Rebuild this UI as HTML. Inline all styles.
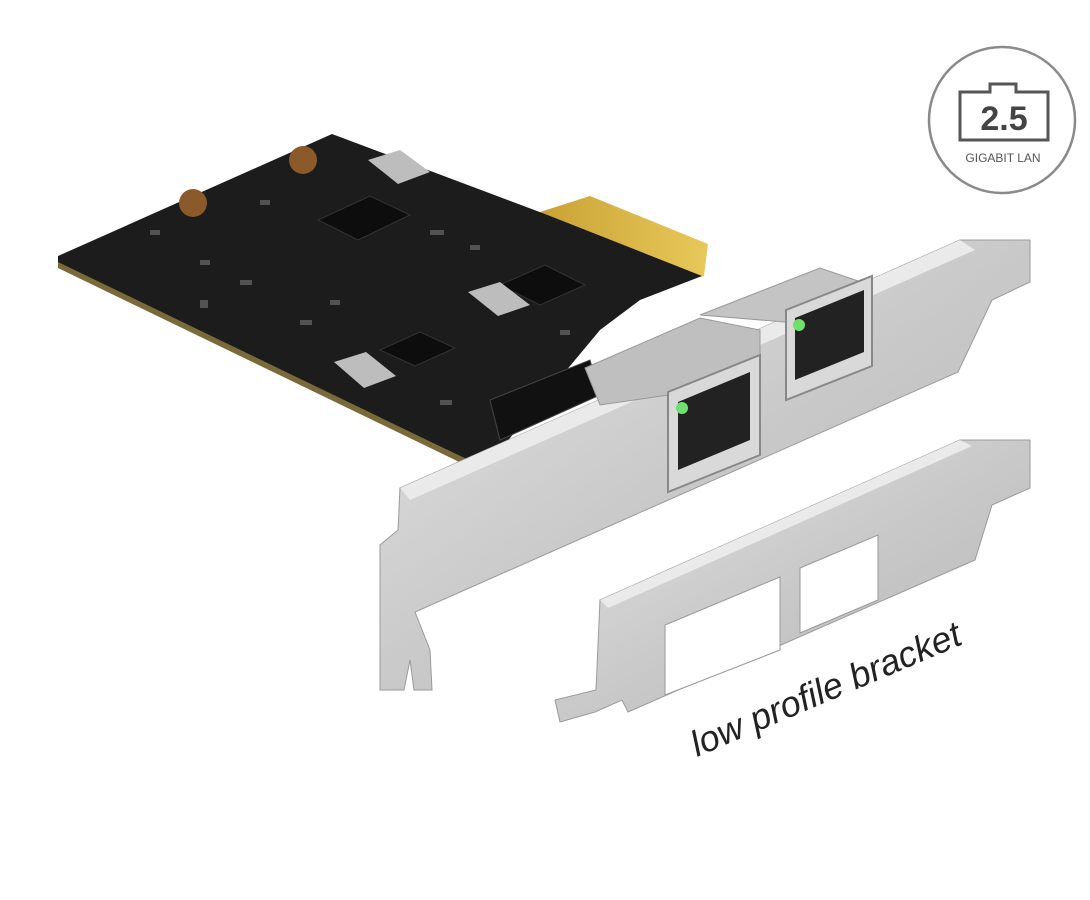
<!DOCTYPE html>
<html><head><meta charset="utf-8"><style>
html,body{margin:0;padding:0;background:#fff;width:1090px;height:900px;overflow:hidden}
svg{display:block}
</style></head><body>
<svg width="1090" height="900" viewBox="0 0 1090 900" xmlns="http://www.w3.org/2000/svg">
<defs>
<linearGradient id="sil" x1="0" y1="0" x2="1" y2="1">
<stop offset="0" stop-color="#e4e4e4"/><stop offset="0.5" stop-color="#c9c9c9"/><stop offset="1" stop-color="#b5b5b5"/>
</linearGradient>
<linearGradient id="gold" x1="0" y1="0" x2="1" y2="0">
<stop offset="0" stop-color="#c9a235"/><stop offset="1" stop-color="#e8c85a"/>
</linearGradient>
</defs>
<rect width="1090" height="900" fill="#fff"/>
<!-- badge -->
<circle cx="1002" cy="120" r="73" fill="#fff" stroke="#8a8a8a" stroke-width="2.5"/>
<path d="M960 92 H990 V84 H1016 V92 H1048 V140 H960 Z" fill="none" stroke="#555" stroke-width="3"/>
<text x="1004" y="130" font-family="Liberation Sans, sans-serif" font-weight="bold" font-size="34" fill="#444" text-anchor="middle">2.5</text>
<text x="1003" y="162" font-family="Liberation Sans, sans-serif" font-size="12" fill="#555" text-anchor="middle">GIGABIT LAN</text>
<!-- gold fingers -->
<polygon points="540,212 590,196 708,244 704,276 600,300" fill="url(#gold)"/>
<!-- PCB -->
<polygon points="58,256 332,134 545,214 702,276 640,300 600,330 485,468 58,264" fill="#1c1c1c"/>
<polygon points="58,262 485,468 480,472 58,268" fill="#7a6a3a"/>
<!-- chips -->
<polygon points="318,220 370,196 410,215 358,240" fill="#0d0d0d" stroke="#333"/>
<polygon points="500,285 545,265 585,285 540,305" fill="#0d0d0d" stroke="#333"/>
<polygon points="380,350 420,332 455,348 415,366" fill="#0d0d0d" stroke="#333"/>
<polygon points="368,160 400,150 430,172 398,184" fill="#bdbdbd"/>
<polygon points="468,292 500,282 530,305 498,316" fill="#bdbdbd"/>
<polygon points="334,362 366,352 396,376 364,388" fill="#bdbdbd"/>
<circle cx="303" cy="160" r="14" fill="#8a5a2a"/>
<circle cx="193" cy="203" r="14" fill="#8a5a2a"/>
<g fill="#777" opacity="0.6">
<rect x="150" y="230" width="10" height="5"/><rect x="200" y="260" width="10" height="5"/><rect x="240" y="280" width="12" height="5"/>
<rect x="260" y="200" width="10" height="5"/><rect x="430" y="230" width="14" height="5"/><rect x="470" y="245" width="10" height="5"/>
<rect x="300" y="320" width="12" height="5"/><rect x="330" y="300" width="10" height="5"/><rect x="200" y="300" width="8" height="8"/>
<rect x="440" y="400" width="12" height="5"/><rect x="560" y="330" width="10" height="5"/>
</g>
<polygon points="490,400 590,360 600,395 500,440" fill="#111" stroke="#444"/>
<!-- full-height bracket -->
<polygon points="400,488 960,240 1030,240 1030,282 992,300 958,372 415,612 430,650 432,690 414,690 410,660 404,690 380,690 380,545 398,530" fill="url(#sil)" stroke="#9a9a9a"/>
<polygon points="400,488 960,240 975,250 410,500" fill="#eaeaea"/>
<!-- port housings -->
<polygon points="585,368 700,318 760,330 760,360 668,395 600,405" fill="#bfbfbf" stroke="#999"/>
<polygon points="700,315 820,268 870,285 870,300 785,322" fill="#c4c4c4" stroke="#999"/>
<!-- ports -->
<polygon points="668,392 760,355 760,455 668,492" fill="#d9d9d9" stroke="#888" stroke-width="2"/>
<polygon points="678,402 750,372 750,440 678,470" fill="#222"/>
<circle cx="682" cy="408" r="6" fill="#6fe06f"/>
<polygon points="786,310 872,276 872,366 786,400" fill="#d9d9d9" stroke="#888" stroke-width="2"/>
<polygon points="795,318 864,290 864,352 795,380" fill="#222"/>
<circle cx="799" cy="325" r="6" fill="#6fe06f"/>
<!-- low profile bracket -->
<polygon points="600,600 960,440 1030,440 1030,488 992,505 975,560 628,712 622,700 595,712 560,722 555,700 596,690" fill="url(#sil)" stroke="#9a9a9a"/>
<polygon points="665,625 780,577 780,650 665,695" fill="#fff" stroke="#999"/>
<polygon points="800,568 878,535 878,600 800,633" fill="#fff" stroke="#999"/>
<polygon points="600,600 960,440 972,446 608,608" fill="#eaeaea"/>
<text transform="translate(697,757) rotate(-23)" font-family="Liberation Sans, sans-serif" font-style="italic" font-size="36" fill="#222">low profile bracket</text>
</svg>
</body></html>
